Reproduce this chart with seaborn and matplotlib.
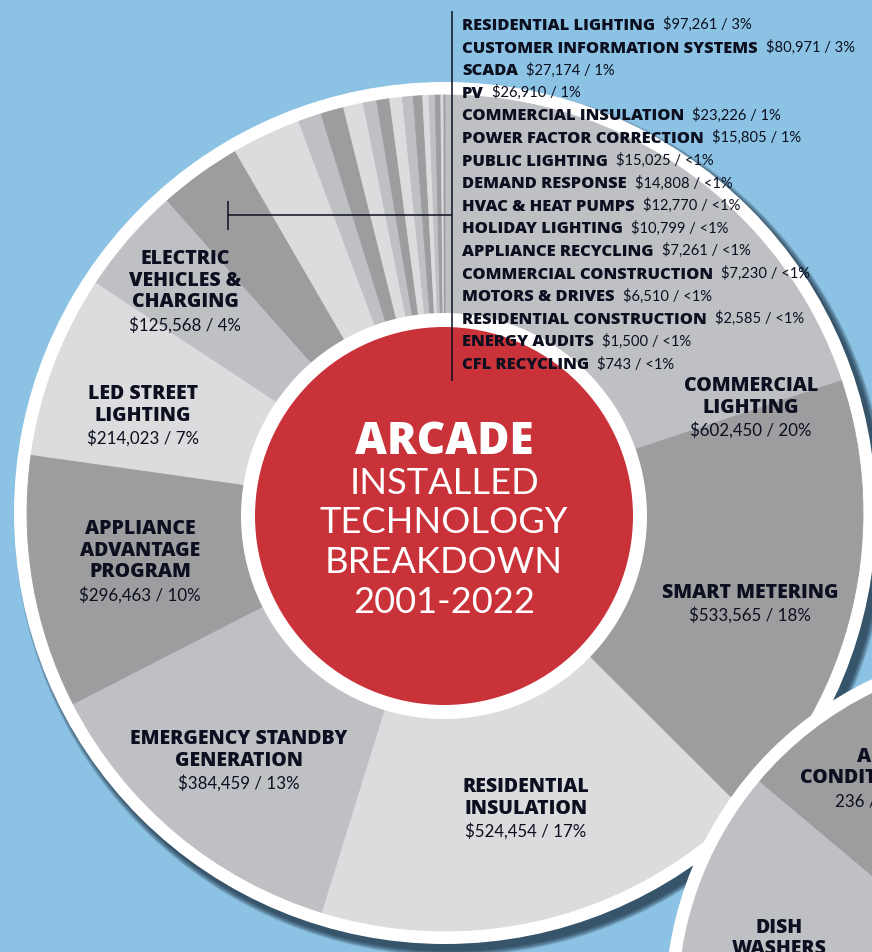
import matplotlib
matplotlib.use("Agg")
import matplotlib.pyplot as plt
import seaborn as sns
from matplotlib.patches import Circle

# ---------------- data ----------------
categories = ["COMMERCIAL\nLIGHTING", "SMART METERING", "RESIDENTIAL\nINSULATION",
              "EMERGENCY STANDBY\nGENERATION", "APPLIANCE\nADVANTAGE\nPROGRAM",
              "LED STREET\nLIGHTING", "ELECTRIC\nVEHICLES &\nCHARGING",
              "RESIDENTIAL LIGHTING", "CUSTOMER INFORMATION SYSTEMS", "SCADA", "PV",
              "COMMERCIAL INSULATION", "POWER FACTOR CORRECTION", "PUBLIC LIGHTING",
              "DEMAND RESPONSE", "HVAC & HEAT PUMPS", "HOLIDAY LIGHTING",
              "APPLIANCE RECYCLING", "COMMERCIAL CONSTRUCTION", "MOTORS & DRIVES",
              "RESIDENTIAL CONSTRUCTION", "ENERGY AUDITS", "CFL RECYCLING"]
values = [602450, 533565, 524454, 384459, 296463, 214023, 125568, 97261, 80971,
          27174, 26910, 23226, 15805, 15025, 14808, 12770, 10799, 7261, 7230,
          6510, 2585, 1500, 743]
title_lines = ["ARCADE", "INSTALLED", "TECHNOLOGY", "BREAKDOWN", "2001-2022"]
second_categories = ["AIR\nCONDITIONERS", "DISH\nWASHERS"]
second_values = [236, 200]
second_amount = "236 /"

# ---------------- style ----------------
W, H = 872, 953
BLUE = "#8CC3E4"
RED = "#C93239"
NAVY = "#0C0F1F"
sns.set_theme(style="white")
plt.rcParams['font.family'] = ['Lato', 'DejaVu Sans']
grays = sns.color_palette(["#BEC0C4", "#9D9D9F", "#DCDCDE"])
BOLD_FAM = ['Open Sans', 'DejaVu Sans']
REG_FAM = ['Lato', 'DejaVu Sans']

fig = plt.figure(figsize=(W / 100, H / 100), dpi=100, facecolor=BLUE)
ax = fig.add_axes([0, 0, 1, 1])
ax.set_facecolor(BLUE)


def Y(y):
    return H - y


main_c = (445, Y(514))
main_r, main_ring = 418, 431
inner_c = (444, Y(517))
inner_white, red_r = 203, 189
sec_c = (1025, Y(1006))
sec_r, sec_ring = 347, 360

# shadow + white ring of main pie
for i in range(12):
    ax.add_patch(Circle((main_c[0] + 6, main_c[1] - 7), main_ring + i * 0.5,
                        color="#0a1826", alpha=0.08, lw=0, zorder=1))
ax.add_patch(Circle(main_c, main_ring, color="white", lw=0, zorder=2))

colors = [grays[i % 3] for i in range(len(values))]
wedges, _ = ax.pie(values, colors=colors, startangle=90, counterclock=False,
                   radius=main_r, center=main_c, frame=False,
                   wedgeprops=dict(lw=0.6, zorder=3))
for w in wedges:
    w.set_edgecolor(w.get_facecolor())

ax.add_patch(Circle(inner_c, inner_white, color="white", lw=0, zorder=4))
ax.add_patch(Circle(inner_c, red_r, color=RED, lw=0, zorder=5))

# second pie (bottom right)
ax.add_patch(Circle(sec_c, sec_ring, color="white", lw=0, zorder=7))
w2, _ = ax.pie(second_values, colors=[grays[1], grays[0]], startangle=140,
               counterclock=False, radius=sec_r, center=sec_c, frame=False,
               wedgeprops=dict(lw=0.6, zorder=8))
for w in w2:
    w.set_edgecolor(w.get_facecolor())

ax.set_xlim(0, W)
ax.set_ylim(0, H)
ax.set_aspect('auto')
ax.axis('off')

renderer = fig.canvas.get_renderer()
BOLD, REG = 800, 'normal'


def fam(weight):
    return BOLD_FAM if weight == BOLD else REG_FAM


def width_px(s, size, weight):
    t = ax.text(0, 0, s, fontsize=size, fontweight=weight, family=fam(weight))
    w = t.get_window_extent(renderer).width
    t.remove()
    return w


def fit(s, target, weight):
    return 20 * target / width_px(s, 20, weight)


def put(x, y, s, size, weight, color=NAVY, ha='center', z=6):
    return ax.text(x, Y(y + size / 2), s, fontsize=size, fontweight=weight,
                   family=fam(weight), color=color, ha=ha, va='baseline',
                   zorder=z)


total = sum(values)


def share(v):
    p = v / total * 100
    return "<1%" if p < 0.5 else f"{round(p)}%"


def amount(v):
    return f"${v:,} / {share(v)}"


list_bold = fit("CUSTOMER INFORMATION SYSTEMS", 295, BOLD)
list_reg = fit("$80,971 / 3%", 89, REG)
wedge_bold = fit("SMART METERING", 176, BOLD)
wedge_reg = fit("$533,565 / 18%", 122, REG)
title_bold = fit("ARCADE", 178, BOLD)
title_reg = fit("TECHNOLOGY", 247, REG)

# wedge labels (x centre, y of first line)
label_pos = [(751, 384), (750, 591), (526, 785), (239, 737), (140, 527),
             (143, 392), (185, 257)]
LS = 21.7
for (x, y0), name, v in zip(label_pos, categories, values):
    lines = name.split("\n")
    for k, ln in enumerate(lines):
        put(x, y0 + k * LS, ln, wedge_bold, BOLD)
    put(x, y0 + (len(lines) - 1) * LS + 24, amount(v), wedge_reg, REG)

# list of small categories
for i, (name, v) in enumerate(zip(categories[7:], values[7:])):
    y = 24 + 22.6 * i
    t = put(462, y, name, list_bold, BOLD, ha='left')
    w = t.get_window_extent(renderer).width
    put(462 + w + 8, y, amount(v), list_reg, REG, ha='left')

# leader lines
lk = dict(color=NAVY, lw=1.1, zorder=6, solid_capstyle='butt')
ax.plot([452, 452], [Y(12), Y(382)], **lk)
ax.plot([228, 452], [Y(216), Y(216)], **lk)
ax.plot([228, 228], [Y(202), Y(231)], **lk)

# centre title
ty = [438, 481, 520, 560, 600]
put(444, ty[0], title_lines[0], title_bold, BOLD, color="white", z=6)
for y, s in zip(ty[1:], title_lines[1:]):
    put(444, y, s, title_reg, REG, color="white", z=6)

# second pie labels (cut by the picture edge, as in the original)
ac = second_categories[0].split("\n")
put(857, 755, ac[0], wedge_bold, BOLD, ha='left', z=9)
put(800, 776, ac[1], wedge_bold, BOLD, ha='left', z=9)
put(835, 800, second_amount, wedge_reg, REG, ha='left', z=9)
dw = second_categories[1].split("\n")
put(779, 926, dw[0], wedge_bold, BOLD, z=9)
put(779, 947, dw[1], wedge_bold, BOLD, z=9)

fig.savefig("out.png", dpi=100, facecolor=BLUE)
